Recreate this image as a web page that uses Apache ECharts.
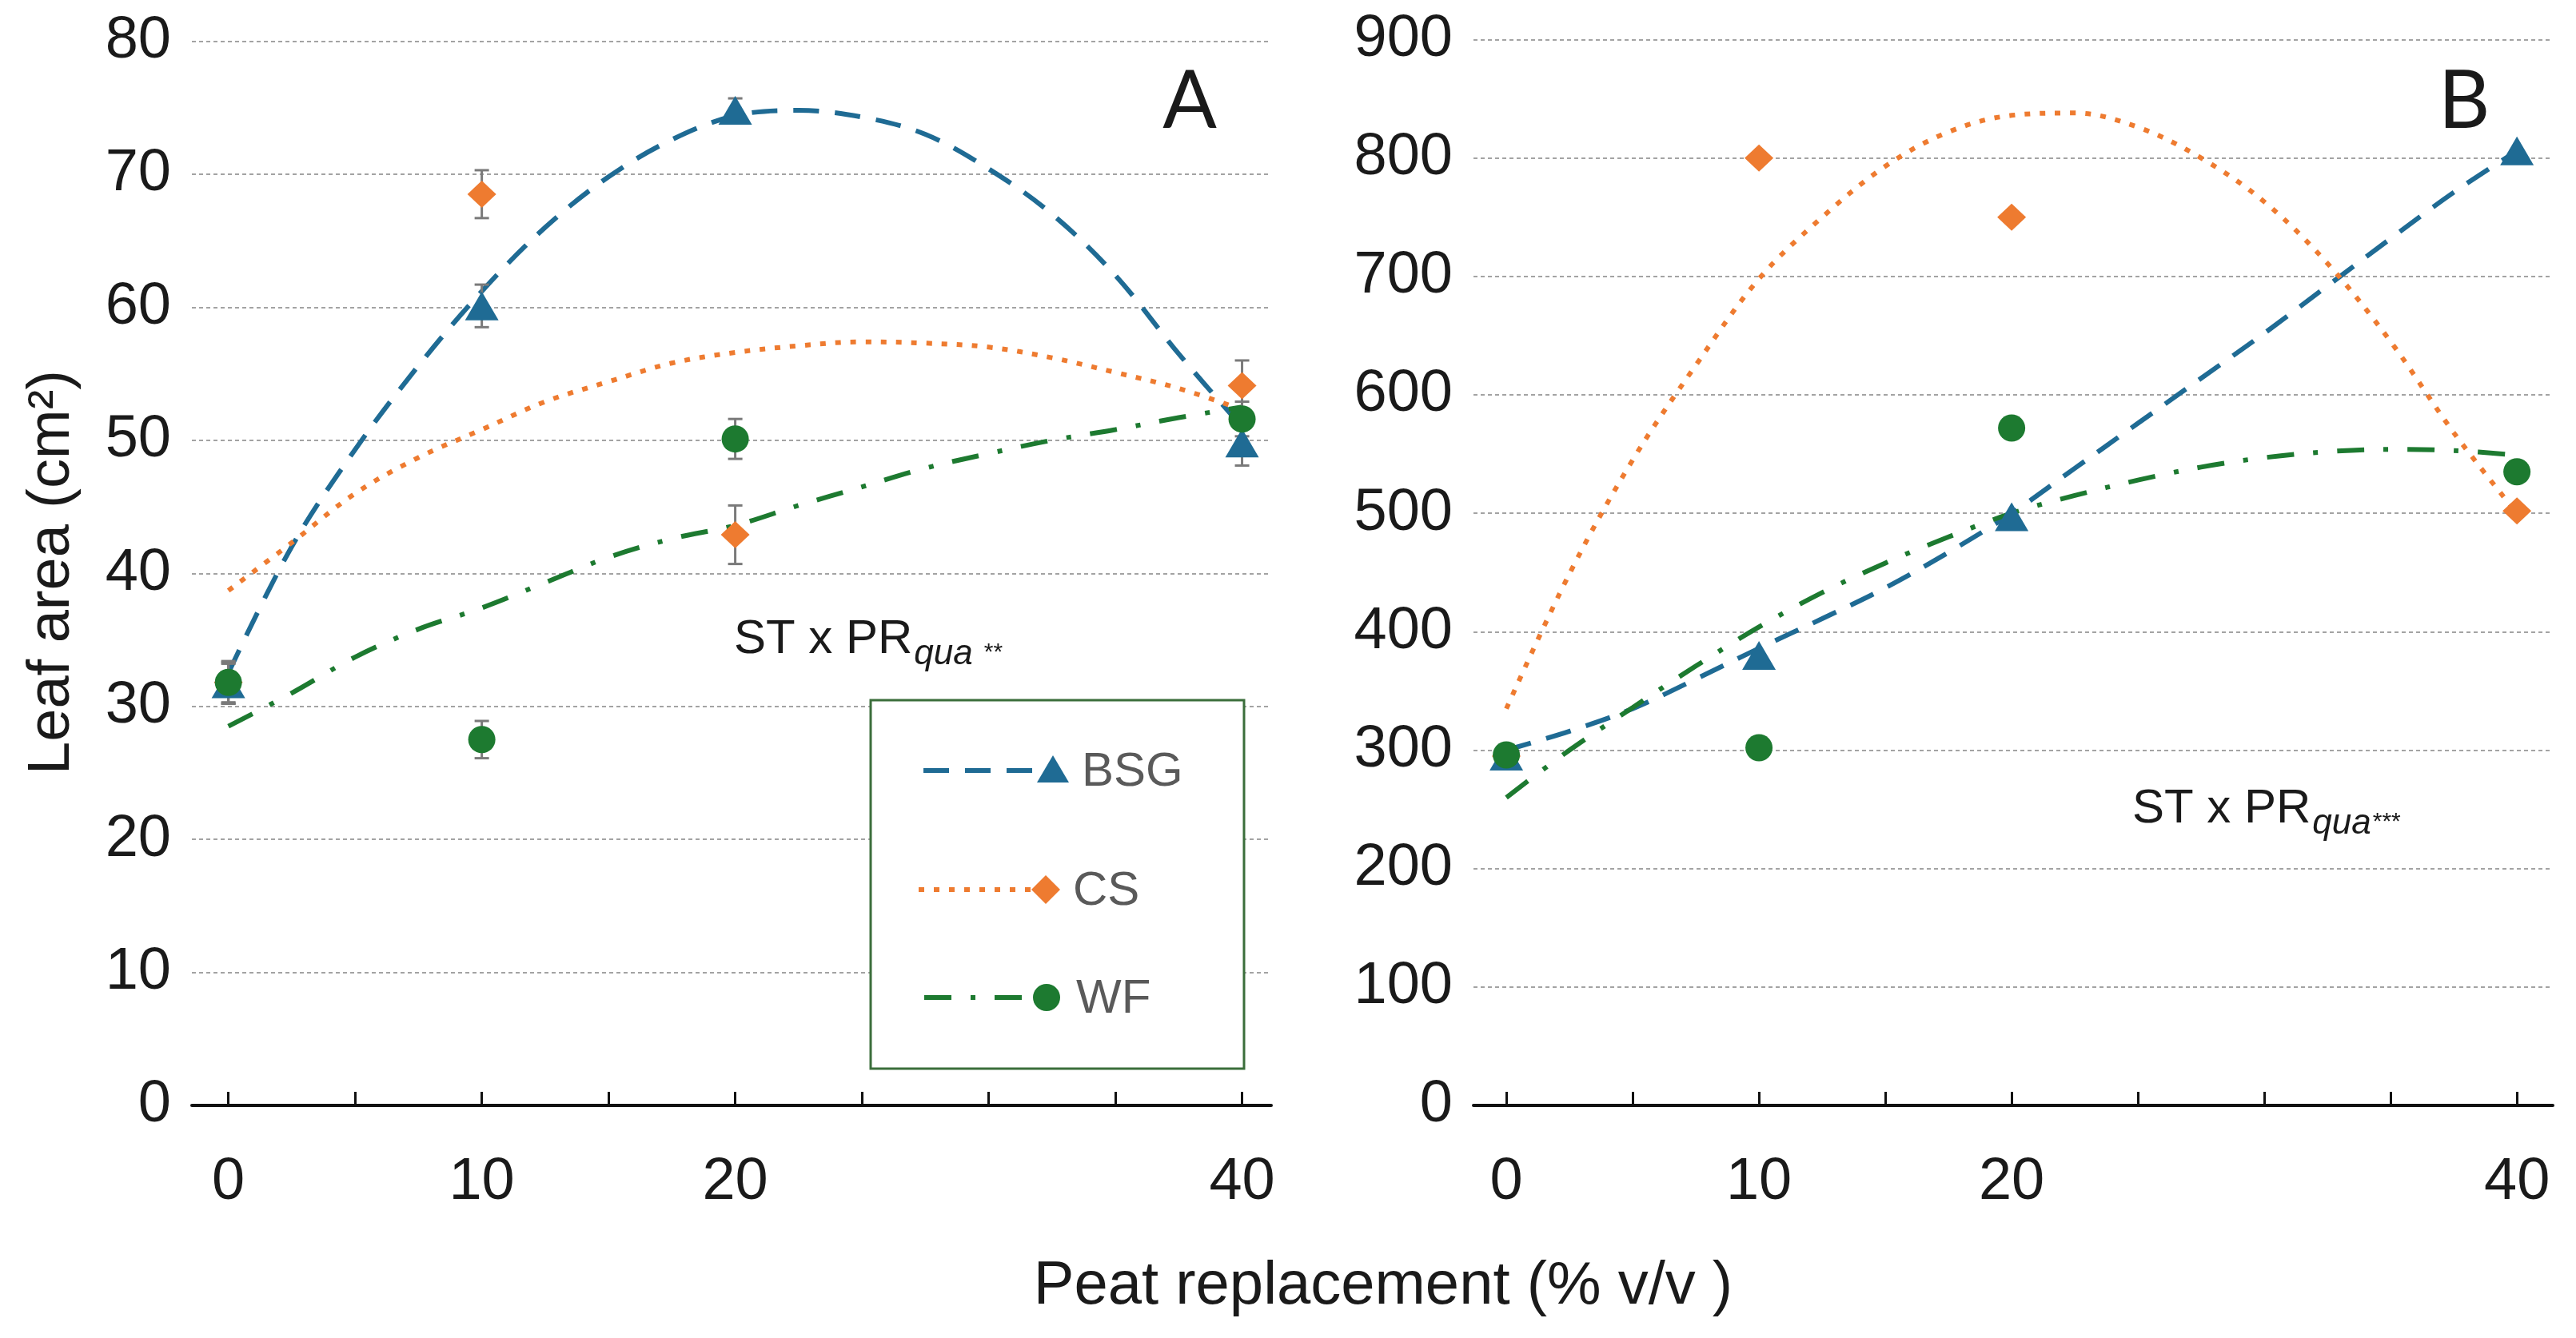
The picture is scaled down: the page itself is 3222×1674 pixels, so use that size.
<!DOCTYPE html>
<html><head><meta charset="utf-8">
<script src="https://cdn.jsdelivr.net/npm/echarts@6/dist/echarts.min.js"></script>
<style>html,body{margin:0;padding:0;background:#fff}#c{width:3222px;height:1674px}</style>
</head><body><div id="c"></div>
<script>
// ---- data ----
const peat = [0, 10, 20, 40];
const xTicks = [0, 5, 10, 15, 20, 25, 30, 35, 40];
const xLabels = [0, 10, 20, 40];

const leafA_BSG = [31.7, 60.1, 74.8, 49.8];
const leafA_CS  = [31.8, 68.5, 42.9, 54.1];
const leafA_WF  = [31.8, 27.5, 50.1, 51.6];
const errA_BSG = [1.5, 1.6, 0.9, 1.7];
const errA_CS  = [1.5, 1.8, 2.2, 1.9];
const errA_WF  = [1.6, 1.4, 1.5, 1.3];

const leafB_BSG = [295, 380, 497, 806];
const leafB_CS  = [295, 800, 750, 502];
const leafB_WF  = [296, 302, 572, 535];

// trend curves
const trendX = [0, 2.5, 5, 7.5, 10, 12.5, 15, 17.5, 20, 22.5, 25, 27.5, 30, 32.5, 35, 37.5, 40];
const trendA_BSG = [32.5, 42, 49.3, 55.6, 61.2, 66, 69.8, 72.6, 74.4, 74.8, 74.3, 73, 70.4, 67, 62.4, 56.5, 51];
const trendA_CS  = [38.7, 42.3, 46, 48.7, 50.8, 52.9, 54.4, 55.8, 56.6, 57.1, 57.4, 57.3, 57, 56.2, 55.1, 53.9, 52.3];
const trendA_WF  = [28.5, 31, 33.7, 35.8, 37.4, 39.3, 41.2, 42.6, 43.6, 45.1, 46.5, 47.9, 49, 50, 50.8, 51.7, 52.5];
const trendB_BSG = [300, 316, 335, 360, 386, 411, 437, 467, 500, 538, 576, 614, 652, 692, 732, 771, 806];
const trendB_CS  = [335, 449, 545, 625, 698, 750, 793, 822, 836, 838, 826, 800, 763, 711, 645, 568, 500];
const trendB_WF  = [260, 300, 336, 371, 404, 433, 458, 480, 500, 515, 528, 539, 547, 552, 554, 553, 549];

const seriesNames = ['BSG', 'CS', 'WF'];
const yTitle = 'Leaf area (cm²)';
const xTitle = 'Peat replacement (% v/v )';

// ---- styles ----
const BLUE = '#1f6b94', ORANGE = '#ee7b30', GREEN = '#1d7a30';
const FONT = 'Liberation Sans, Arial, sans-serif';
const TXT = '#1a1a1a';
const DASH = [32, 20], DOT = [7, 12], DASHDOT = [34, 24, 6, 24];

const chart = echarts.init(document.getElementById('c'), null, {renderer: 'canvas'});
const zip = (xs, ys) => xs.map((x, i) => [x, ys[i]]);

const mctx = document.createElement('canvas').getContext('2d');
function measure(text, size, style) {
  mctx.font = (style || '') + ' ' + size + 'px ' + FONT;
  return mctx.measureText(text).width;
}

function xAxisCfg(gi, min, max) {
  return {
    type: 'value', gridIndex: gi, min: min, max: max,
    axisLine: {show: true, onZero: false, lineStyle: {color: '#111', width: 4}},
    axisTick: {show: true, inside: true, length: 17, customValues: xTicks, lineStyle: {color: '#111', width: 3}},
    axisLabel: {customValues: xLabels, fontSize: 74, color: TXT, fontFamily: FONT, margin: 60},
    splitLine: {show: false}
  };
}
function yAxisCfg(gi, max, interval) {
  return {
    type: 'value', gridIndex: gi, min: 0, max: max, interval: interval,
    axisLine: {show: false}, axisTick: {show: false},
    axisLabel: {fontSize: 74, color: TXT, fontFamily: FONT, margin: 26},
    splitLine: {show: true, lineStyle: {color: '#a3a3a3', width: 2, type: [5, 4]}}
  };
}
function trend(gi, ys, color, dash) {
  return {type: 'line', xAxisIndex: gi, yAxisIndex: gi, data: zip(trendX, ys), smooth: 0.35,
    showSymbol: false, symbol: 'none', silent: true, z: 2,
    lineStyle: {color: color, width: 6, type: dash}};
}
function points(gi, name, ys, color, symbol, size, z) {
  return {type: 'scatter', name: name, xAxisIndex: gi, yAxisIndex: gi, data: zip(peat, ys),
    symbol: symbol, symbolSize: size, itemStyle: {color: color, opacity: 1}, z: z, silent: true};
}
function errBars(gi, ys, es) {
  return {type: 'custom', xAxisIndex: gi, yAxisIndex: gi, silent: true, z: 3,
    encode: {x: 0, y: [1, 2]},
    data: peat.map((x, i) => [x, ys[i] - es[i], ys[i] + es[i]]),
    renderItem: function (params, api) {
      const x = api.value(0);
      const lo = api.coord([x, api.value(1)]);
      const hi = api.coord([x, api.value(2)]);
      const w = 9;
      const st = {stroke: '#7a7a7a', lineWidth: 3};
      return {type: 'group', children: [
        {type: 'line', shape: {x1: lo[0], y1: lo[1], x2: hi[0], y2: hi[1]}, style: st},
        {type: 'line', shape: {x1: lo[0] - w, y1: lo[1], x2: lo[0] + w, y2: lo[1]}, style: st},
        {type: 'line', shape: {x1: hi[0] - w, y1: hi[1], x2: hi[0] + w, y2: hi[1]}, style: st}
      ]};
    }};
}
function txt(x, y, text, size, opts) {
  return Object.assign({type: 'text', x: x, y: y, z: 50, silent: true,
    style: Object.assign({text: text, fontSize: size, fontFamily: FONT, fill: TXT,
      align: 'left', verticalAlign: 'middle'}, opts || {})});
}
// "ST x PR" with italic subscript "qua" and significance stars
function annotation(x, y, stars, starGap) {
  const main = 'ST x PR';
  const w1 = measure(main, 60);
  const w2 = measure('qua', 44, 'italic');
  return [
    txt(x, y, main, 60),
    txt(x + w1 + 2, y + 19, 'qua', 44, {fontStyle: 'italic'}),
    txt(x + w1 + 2 + w2 + starGap, y + 17, stars, 30)
  ];
}

// legend (drawn as graphic)
function legendRow(y, color, dash, marker, label, lineX1, lineX2, mx, tx) {
  const els = [{type: 'line', z: 51, shape: {x1: lineX1, y1: y, x2: lineX2, y2: y},
    style: {stroke: color, lineWidth: 6, lineDash: dash}}];
  if (marker === 'triangle') els.push({type: 'polygon', z: 52, shape: {points: [[mx, y - 19], [mx + 20, y + 15], [mx - 20, y + 15]]}, style: {fill: color}});
  if (marker === 'diamond') els.push({type: 'polygon', z: 52, shape: {points: [[mx, y - 18], [mx + 18, y], [mx, y + 18], [mx - 18, y]]}, style: {fill: color}});
  if (marker === 'circle') els.push({type: 'circle', z: 52, shape: {cx: mx, cy: y, r: 17}, style: {fill: color}});
  els.push(txt(tx, y + 2, label, 60, {fill: '#5a5a5a'}));
  return els;
}

const graphics = [].concat(
  [
    txt(1488, 128, 'A', 100, {fontFamily: 'Lato, sans-serif', align: 'center'}),
    txt(3082, 128, 'B', 100, {fontFamily: 'Lato, sans-serif', align: 'center'})
  ],
  annotation(918, 800, '**', 14),
  annotation(2667, 1012, '***', 2),
  [
    {type: 'text', x: 66, y: 716, rotation: Math.PI / 2, z: 50, silent: true,
      style: {text: yTitle, fontSize: 74, fontFamily: FONT, fill: TXT, align: 'center', verticalAlign: 'middle'}},
    txt(1730, 1610, xTitle, 76, {align: 'center'}),
    {type: 'rect', z: 40, shape: {x: 1089, y: 876, width: 467, height: 461},
      style: {fill: '#ffffff', stroke: '#3b6e3b', lineWidth: 3}}
  ],
  legendRow(964, BLUE, DASH, 'triangle', seriesNames[0], 1155, 1305, 1317, 1353),
  legendRow(1113, ORANGE, DOT, 'diamond', seriesNames[1], 1149, 1296, 1308, 1342),
  legendRow(1248, GREEN, DASHDOT, 'circle', seriesNames[2], 1156, 1296, 1309, 1346)
);

const option = {
  backgroundColor: '#ffffff',
  animation: false,
  grid: [
    {left: 240, right: 3222 - 1590, top: 51.5, bottom: 1674 - 1383},
    {left: 1843, right: 3222 - 3193, top: 49.5, bottom: 1674 - 1383}
  ],
  xAxis: [xAxisCfg(0, -1.44, 41.15), xAxisCfg(1, -1.3, 41.42)],
  yAxis: [yAxisCfg(0, 80, 10), yAxisCfg(1, 900, 100)],
  series: [
    trend(0, trendA_BSG, BLUE, DASH),
    trend(0, trendA_CS, ORANGE, DOT),
    trend(0, trendA_WF, GREEN, DASHDOT),
    errBars(0, leafA_CS, errA_CS),
    errBars(0, leafA_BSG, errA_BSG),
    errBars(0, leafA_WF, errA_WF),
    points(0, 'CS', leafA_CS, ORANGE, 'diamond', [36, 34], 4),
    points(0, 'BSG', leafA_BSG, BLUE, 'triangle', [42, 36], 5),
    points(0, 'WF', leafA_WF, GREEN, 'circle', 34, 6),

    trend(1, trendB_BSG, BLUE, DASH),
    trend(1, trendB_CS, ORANGE, DOT),
    trend(1, trendB_WF, GREEN, DASHDOT),
    points(1, 'CS', leafB_CS, ORANGE, 'diamond', [36, 34], 4),
    points(1, 'BSG', leafB_BSG, BLUE, 'triangle', [42, 36], 5),
    points(1, 'WF', leafB_WF, GREEN, 'circle', 34, 6)
  ],
  graphic: graphics
};
chart.setOption(option);
</script></body></html>
